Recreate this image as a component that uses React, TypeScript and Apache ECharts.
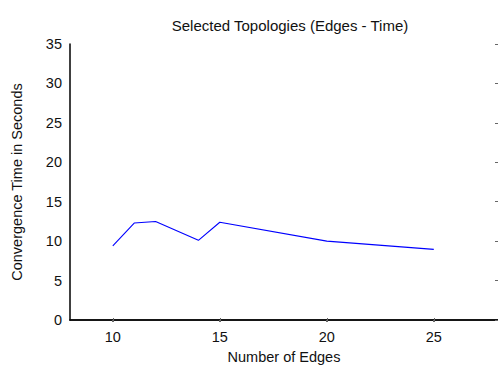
import React, { useEffect, useRef } from "react";
import * as echarts from "echarts";

// Number of edges in each selected topology and its convergence time (s)
const edges: number[] = [10, 11, 12, 14, 15, 20, 25];
const convergenceSeconds: number[] = [9.4, 12.3, 12.5, 10.1, 12.4, 10.0, 8.95];

// Edge-axis range and the tick values shown on it
const xRange = { min: 8, max: 28 };
const xTickValues: number[] = [10, 15, 20, 25];
const yTicks = { min: 0, max: 35, interval: 5 };

const FONT = "'Liberation Sans', Arial, Helvetica, sans-serif";

export default function App() {
  const ref = useRef<HTMLDivElement>(null);

  useEffect(() => {
    if (!ref.current) return;
    const chart = echarts.init(ref.current, undefined, { renderer: "svg" });
    const points = edges.map((e, i) => [e, convergenceSeconds[i]]);

    chart.setOption({
      animation: false,
      backgroundColor: "#ffffff",
      textStyle: { fontFamily: FONT },
      title: {
        text: "Selected Topologies (Edges - Time)",
        left: 285,
        top: 13,
        textAlign: "center",
        textStyle: { fontFamily: FONT, fontSize: 15, fontWeight: "normal", color: "#111" },
      },
      grid: { left: 70, top: 44, width: 430, height: 280, containLabel: false },
      xAxis: [
        {
          type: "value",
          min: xRange.min,
          max: xRange.max,
          position: "bottom",
          name: "Number of Edges",
          nameLocation: "middle",
          nameGap: 29,
          nameTextStyle: { fontFamily: FONT, fontSize: 14.5, color: "#111" },
          axisLine: { onZero: false, lineStyle: { color: "#222", width: 1.5 } },
          axisTick: {
            show: true,
            inside: true,
            length: 2,
            customValues: xTickValues,
            lineStyle: { color: "#666", width: 1 },
          },
          axisLabel: {
            fontFamily: FONT,
            fontSize: 14.5,
            color: "#111",
            margin: 9,
            customValues: xTickValues,
          },
          splitLine: { show: false },
        },
        {
          type: "value",
          min: xRange.min,
          max: xRange.max,
          position: "top",
          axisLine: { lineStyle: { color: "#000", width: 1.5 } },
          axisTick: {
            show: true,
            inside: true,
            length: 2,
            customValues: xTickValues,
            lineStyle: { color: "#666", width: 2 },
          },
          axisLabel: { show: false },
          splitLine: { show: false },
        },
      ],
      yAxis: [
        {
          type: "value",
          min: yTicks.min,
          max: yTicks.max,
          interval: yTicks.interval,
          position: "left",
          name: "Convergence Time in Seconds",
          nameLocation: "middle",
          nameGap: 46,
          nameTextStyle: { fontFamily: FONT, fontSize: 14.5, color: "#111" },
          axisLine: { onZero: false, lineStyle: { color: "#000", width: 1.5 } },
          axisTick: { show: false },
          axisLabel: { fontFamily: FONT, fontSize: 14.5, color: "#111", margin: 8 },
          splitLine: { show: false },
        },
        {
          type: "value",
          min: yTicks.min,
          max: yTicks.max,
          interval: yTicks.interval,
          position: "right",
          axisLine: { show: false },
          axisTick: { show: true, inside: true, length: 3, lineStyle: { color: "#666", width: 1 } },
          axisLabel: { show: false },
          splitLine: { show: false },
        },
      ],
      series: [
        {
          type: "line",
          data: points,
          xAxisIndex: 0,
          yAxisIndex: 0,
          showSymbol: false,
          symbol: "none",
          lineStyle: { color: "#0000ff", width: 1.1 },
        },
      ],
    });

    return () => chart.dispose();
  }, []);

  return (
    <div
      ref={ref}
      style={{ position: "fixed", left: 0, top: 0, width: 498, height: 369 }}
    />
  );
}
